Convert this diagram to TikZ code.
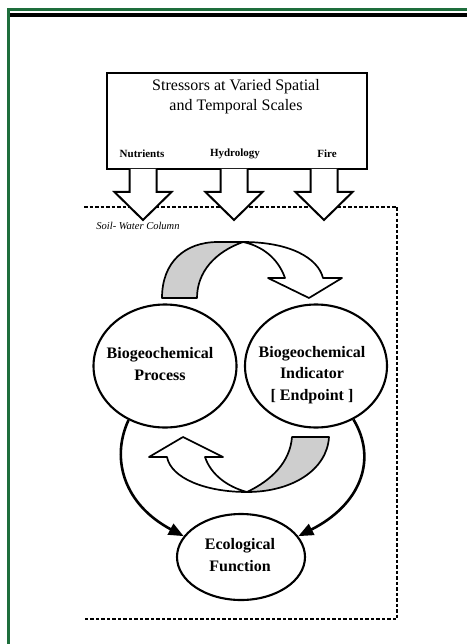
\documentclass[tikz,border=0pt]{standalone}
\usepackage{fontspec}
\setmainfont{Liberation Serif}
\usetikzlibrary{arrows.meta,shapes.geometric}
\definecolor{framegreen}{RGB}{30,110,60}
\definecolor{bandgray}{RGB}{206,206,206}
\begin{document}
\begin{tikzpicture}[x=1pt,y=-1pt,
  oval/.style={draw,line width=2.1pt,ellipse,inner sep=0pt},
  lbl/.style={font=\fontsize{16}{21.5}\selectfont\bfseries,align=center},
  blk/.style={draw,line width=2pt,fill=white,line join=miter},
  band/.style={draw,line width=1.7pt,line join=round},
  flow/.style={line width=2.6pt,-{Triangle[length=15pt,width=12pt]}},
  downblk/.pic={\draw[blk] (-13.5,0) -- (-13.5,23) -- (-28.5,23) -- (0,51) -- (28.5,23) -- (13.5,23) -- (13.5,0);}
  ]
\useasboundingbox (0,0) rectangle (467,644);
% frame
\draw[framegreen,line width=3pt] (8,644) -- (8,10) -- (467,10);
\draw[line width=3.8pt] (10,15) -- (467,15);
% soil-water column boundary
\draw[line width=1.7pt,dash pattern=on 3.5pt off 2pt] (84,207) -- (397,207) -- (397,619) -- (83,619);
\node[font=\fontsize{10.5}{12}\selectfont\itshape] (soil) at (138,226) {Soil- Water Column};
% stressor box
\node[draw,line width=2.2pt,minimum width=260pt,minimum height=96pt] (box) at (237,121) {};
\node[font=\fontsize{16}{20}\selectfont,align=center] (title) at (236,97) {Stressors at Varied Spatial\\and Temporal Scales};
\node[font=\fontsize{11}{13}\selectfont\bfseries] (nut) at (142,154) {Nutrients};
\node[font=\fontsize{11}{13}\selectfont\bfseries] (hyd) at (235,154) {Hydrology};
\node[font=\fontsize{11}{13}\selectfont\bfseries] (fire) at (327,154) {Fire};
\pic at (143,169) {downblk};
\pic at (234,169) {downblk};
\pic at (324,169) {downblk};
% ellipses
\node[oval,minimum width=143pt,minimum height=123pt] (proc) at (165,366) {};
\node[oval,minimum width=142pt,minimum height=123pt] (ind) at (316,366) {};
\node[oval,minimum width=128pt,minimum height=86pt] (eco) at (241,557) {};
\node[lbl] (proct) at (160,364) {Biogeochemical\\Process};
\node[lbl] (indt) at (312,375) {Biogeochemical\\Indicator\\{[} Endpoint ]};
\node[lbl] (ecot) at (240,555) {Ecological\\Function};
% top curved arrow
\draw[band,fill=bandgray] (162,298) .. controls (162,262) and (185,242) .. (218,242) -- (243,242) .. controls (215,252) and (197,272) .. (197,298) -- cycle;
\draw[band,fill=white] (243,242) .. controls (290,242) and (318,258) .. (323,278) -- (342,278) -- (309,298) -- (268,278) -- (285,278) .. controls (278,258) and (262,246) .. (243,242) -- cycle;
% bottom curved arrow
\draw[band,fill=bandgray] (292,437) -- (329,437) .. controls (327,470) and (292,492) .. (247,492) .. controls (272,480) and (290,462) .. (292,437) -- cycle;
\draw[band,fill=white] (247,492) .. controls (205,492) and (171,478) .. (167,457) -- (149,457) -- (183,437) -- (223,457) -- (205,457) .. controls (211,475) and (228,487) .. (247,492) -- cycle;
% flows to ecological function
\draw[flow] (proc.236) .. controls (110,460) and (125,505) .. (eco.160);
\draw[flow] (ind.-55) .. controls (378,460) and (360,505) .. (eco.20);
\end{tikzpicture}
\end{document}
